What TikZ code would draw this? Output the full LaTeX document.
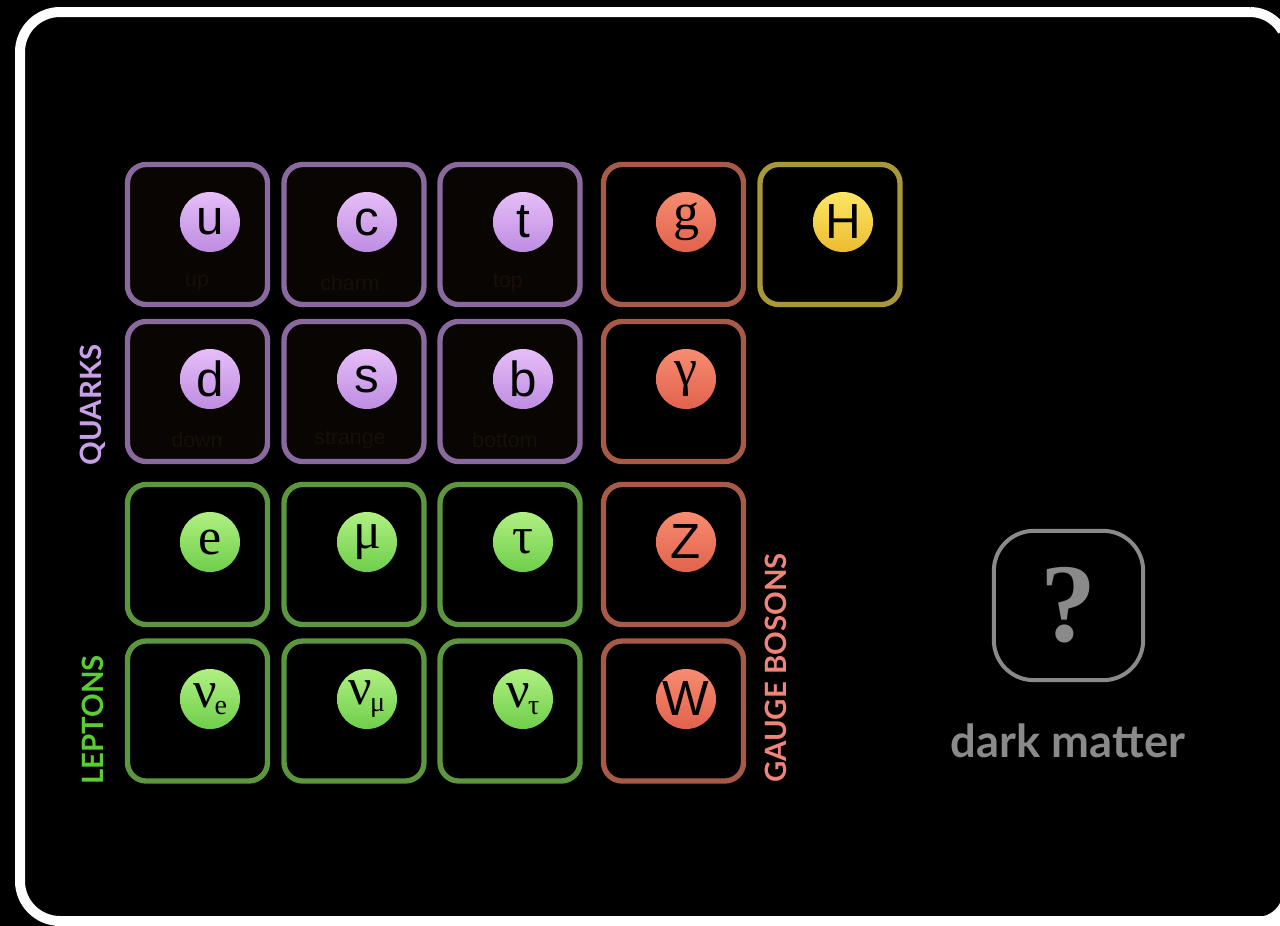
\documentclass[tikz,border=0pt]{standalone}
\usepackage{fontspec}
\usepackage{xcolor}
\setmainfont{Liberation Sans}
\newfontfamily\ballfont{Liberation Sans}
\newfontfamily\greekfont{Liberation Serif}
\newfontfamily\tagfont{Lato}

\definecolor{quarkline}{RGB}{138,106,158}
\definecolor{quarkball}{RGB}{230,190,248}
\definecolor{quarkballdk}{RGB}{190,140,226}
\definecolor{bosonline}{RGB}{168,90,72}
\definecolor{bosonball}{RGB}{246,140,112}
\definecolor{bosonballdk}{RGB}{226,98,76}
\definecolor{higgsline}{RGB}{168,152,56}
\definecolor{higgsball}{RGB}{252,230,100}
\definecolor{higgsballdk}{RGB}{236,188,48}
\definecolor{leptonline}{RGB}{92,150,62}
\definecolor{leptonball}{RGB}{176,240,130}
\definecolor{leptonballdk}{RGB}{110,206,74}
\definecolor{darkline}{RGB}{138,138,138}
\definecolor{quarktag}{RGB}{200,160,232}
\definecolor{leptontag}{RGB}{92,204,52}
\definecolor{bosontag}{RGB}{240,132,122}
\definecolor{ghost}{RGB}{24,15,6}

\tikzset{
	cell/.style={draw, rounded corners=14pt, line width=4pt, minimum size=105pt, inner sep=0pt},
	quarkcell/.style={cell, draw=quarkline, fill={rgb,255:red,8;green,5;blue,2}},
	bosoncell/.style={cell, draw=bosonline},
	higgscell/.style={cell, draw=higgsline},
	leptoncell/.style={cell, draw=leptonline},
	ball/.style={circle, minimum size=45pt, inner sep=0pt, text=black, font=\ballfont\fontsize{37}{37}\selectfont},
	quarkball/.style={ball, top color=quarkball, bottom color=quarkballdk},
	bosonball/.style={ball, top color=bosonball, bottom color=bosonballdk},
	higgsball/.style={ball, top color=higgsball, bottom color=higgsballdk},
	serifball/.style={font=\greekfont\fontsize{39}{39}\selectfont},
	leptonball/.style={ball, top color=leptonball, bottom color=leptonballdk, serifball},
	ghostname/.style={text=ghost, font=\ballfont\fontsize{16}{16}\selectfont},
	grouptag/.style={rotate=90, font=\tagfont\bfseries\fontsize{22}{22}\selectfont}
}
\newcommand{\subflav}[1]{\kern-0.04em\raisebox{-0.14em}{\fontsize{21}{21}\selectfont #1}}

\begin{document}
\begin{tikzpicture}[x=0.75pt,y=0.75pt,yscale=-1,xscale=1]
\useasboundingbox (0,0) rectangle (1280,925);
\clip (0,0) rectangle (1280,925);
\fill[black] (-10,-10) rectangle (1290,935);

%Rounded Rect (frame): right side runs off the page
\draw[white, line width=7.5pt, rounded corners=30pt] (1250,12) -- (20,12) -- (20,921) -- (1300,921);
\draw[white, line width=7.5pt] (1250,12) arc[start angle=270, end angle=330, radius=37.5];
\fill[white] (1257,917) arc[start angle=90, end angle=0, radius=26] -- (1290,891) -- (1290,935) -- (1257,935) -- cycle;

%Rounded Rect (quarks)
\node[quarkcell] (box-u) at (197.5,234.5) {};
\node[quarkcell] (box-c) at (354,234.5) {};
\node[quarkcell] (box-t) at (510,234.5) {};
\node[quarkcell] (box-d) at (197.5,391.5) {};
\node[quarkcell] (box-s) at (354,391.5) {};
\node[quarkcell] (box-b) at (510,391.5) {};
%Rounded Rect (leptons)
\node[leptoncell] (box-e) at (197.5,554.5) {};
\node[leptoncell] (box-mu) at (354,554.5) {};
\node[leptoncell] (box-tau) at (510,554.5) {};
\node[leptoncell] (box-nue) at (197.5,711) {};
\node[leptoncell] (box-numu) at (354,711) {};
\node[leptoncell] (box-nutau) at (510,711) {};
%Rounded Rect (bosons)
\node[bosoncell] (box-g) at (673.5,234.5) {};
\node[bosoncell] (box-gamma) at (673.5,391.5) {};
\node[bosoncell] (box-Z) at (673.5,554.5) {};
\node[bosoncell] (box-W) at (673.5,711) {};
\node[higgscell] (box-H) at (830,234.5) {};

% Text Node (faded names)
\node[ghostname] (name-u) at (197,283) {up};
\node[ghostname] (name-c) at (350,283) {charm};
\node[ghostname] (name-t) at (508,283) {top};
\node[ghostname] (name-d) at (197,440) {down};
\node[ghostname] (name-s) at (350,440) {strange};
\node[ghostname] (name-b) at (505,440) {bottom};

%Circle
\node[quarkball] (ball-u) at (210,222) {u};
\node[quarkball] (ball-c) at (367,222) {c};
\node[quarkball] (ball-t) at (523,222) {t};
\node[quarkball] (ball-d) at (210,379) {d};
\node[quarkball] (ball-s) at (367,379) {s};
\node[quarkball] (ball-b) at (523,379) {b};
\node[bosonball, serifball] (ball-g) at (686,222) {g};
\node[higgsball] (ball-H) at (843,222) {H};
\node[bosonball, serifball] (ball-gamma) at (686,379) {γ};
\node[bosonball] (ball-Z) at (686,542) {Z};
\node[bosonball] (ball-W) at (686,699) {W};
\node[leptonball] (ball-e) at (210,542) {e};
\node[leptonball] (ball-mu) at (367,542) {μ};
\node[leptonball] (ball-tau) at (523,542) {τ};
\node[leptonball] (ball-nue) at (210,699) {ν\subflav{e}};
\node[leptonball] (ball-numu) at (367,699) {ν\subflav{μ}};
\node[leptonball] (ball-nutau) at (523,699) {ν\subflav{τ}};

% Text Node (group names)
\node[grouptag, text=quarktag] (tag-quarks) at (93,405) {QUARKS};
\node[grouptag, text=leptontag] (tag-leptons) at (93,720) {LEPTONS};
\node[grouptag, text=bosontag] (tag-bosons) at (776,668) {GAUGE BOSONS};

%Rounded Rect (dark matter)
\node[draw=darkline, line width=3pt, rounded corners=30pt, minimum size=112pt, inner sep=0pt, text=darkline, font=\greekfont\bfseries\fontsize{84}{84}\selectfont] (box-dm) at (1068.5,605.5) {?};
% Text Node
\node[anchor=base, text=darkline, font=\tagfont\bfseries\fontsize{34}{34}\selectfont] (name-dm) at (1068,757) {dark matter};

\end{tikzpicture}
\end{document}
